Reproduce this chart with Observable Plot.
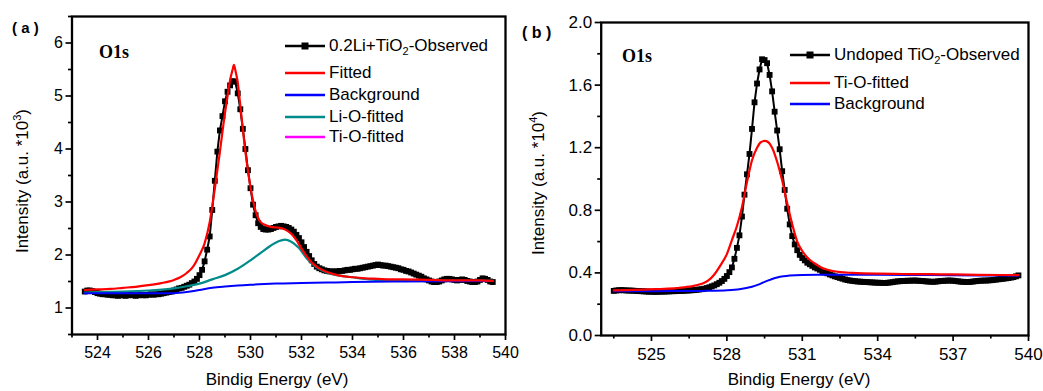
<!DOCTYPE html>
<html>
<head>
<meta charset="utf-8">
<script src="https://cdn.jsdelivr.net/npm/d3@7"></script>
<script src="https://cdn.jsdelivr.net/npm/@observablehq/plot@0.6"></script>
<style>
  body { margin: 0; background: #fff; }
  #wrap { position: relative; width: 1043px; height: 391px; overflow: hidden; background: #fff;
          font-family: "Liberation Sans", Arial, sans-serif; color: #000; }
  .svgbox { position: absolute; top: 0; }
  .t { position: absolute; white-space: nowrap; line-height: 20px; height: 20px; }
  .leg { position: absolute; display: flex; align-items: center; height: 20px; font-size: 17px; white-space: nowrap; }
  .leg svg { margin-right: 4px; flex: none; }
  sub { font-size: 11px; vertical-align: -4px; line-height: 0; }
  sup { font-size: 11px; vertical-align: 7px; line-height: 0; }
</style>
</head>
<body>
<div id="wrap"></div>
<script>
// ---------------- Panel (a): 0.2Li + TiO2, O1s ----------------
const obsAStart = 523.5, obsAStep = 0.1;
const obsA = [
  1.31,1.33,1.33,1.32,1.30,1.28,1.27,1.26,1.26,1.25,
  1.25,1.24,1.24,1.23,1.24,1.24,1.23,1.24,1.25,1.24,
  1.23,1.24,1.25,1.24,1.24,1.25,1.26,1.25,1.26,1.26,
  1.27,1.28,1.29,1.30,1.31,1.33,1.35,1.37,1.38,1.40,
  1.42,1.44,1.47,1.50,1.55,1.62,1.72,1.88,2.10,2.35,
  2.85,3.40,3.95,4.35,4.62,4.90,5.08,5.20,5.28,5.27,
  5.05,4.75,4.38,4.00,3.60,3.26,2.95,2.75,2.60,2.53,
  2.49,2.48,2.48,2.49,2.51,2.53,2.54,2.55,2.54,2.53,
  2.51,2.48,2.44,2.38,2.32,2.24,2.15,2.06,1.98,1.90,
  1.83,1.78,1.75,1.73,1.71,1.70,1.69,1.69,1.69,1.69,
  1.70,1.70,1.71,1.72,1.72,1.73,1.74,1.74,1.75,1.76,
  1.77,1.78,1.79,1.80,1.81,1.82,1.81,1.80,1.80,1.79,
  1.78,1.77,1.76,1.75,1.73,1.72,1.70,1.69,1.67,1.65,
  1.63,1.61,1.59,1.56,1.54,1.52,1.50,1.49,1.49,1.50,
  1.52,1.54,1.55,1.55,1.54,1.53,1.52,1.53,1.54,1.53,
  1.51,1.50,1.49,1.49,1.50,1.53,1.56,1.55,1.53,1.50,
  1.49
];
const fitA_E = [523.5,524,524.5,525,525.5,526,526.5,527,527.25,527.5,527.75,528,528.2,528.4,528.6,528.8,529,529.1,529.2,529.3,529.35,529.4,529.5,529.6,529.8,530,530.2,530.4,530.6,530.8,531,531.2,531.4,531.6,531.8,532,532.2,532.4,532.6,532.8,533,533.25,533.5,534,534.5,535,535.5,536,537,538,539,539.5];
const fitA   = [1.34,1.35,1.36,1.38,1.40,1.43,1.47,1.53,1.58,1.66,1.78,2.00,2.22,2.62,3.25,3.95,4.68,5.00,5.30,5.50,5.59,5.50,5.25,4.82,3.95,3.28,2.83,2.62,2.56,2.53,2.52,2.51,2.47,2.40,2.28,2.12,1.98,1.86,1.78,1.72,1.68,1.64,1.61,1.58,1.56,1.55,1.54,1.54,1.53,1.52,1.52,1.51];
const bgA_E  = [523.5,526,527,527.5,528,528.5,529,529.5,530,531,532,533,534,536,539.5];
const bgA    = [1.28,1.28,1.28,1.30,1.34,1.38,1.405,1.425,1.44,1.46,1.47,1.48,1.49,1.50,1.51];
const lioA_E = [523.5,524,525,526,527,527.5,528,528.5,529,529.5,530,530.4,530.8,531.1,531.35,531.6,531.9,532.2,532.5,532.8,533.1,533.5,534,534.5,535,536,537,538,539.5];
const lioA   = [1.29,1.30,1.31,1.33,1.37,1.41,1.46,1.54,1.62,1.74,1.90,2.04,2.18,2.26,2.29,2.25,2.13,1.94,1.80,1.71,1.65,1.61,1.58,1.55,1.53,1.52,1.52,1.51,1.51];
const xMajorA = [524,526,528,530,532,534,536,538,540];
const xMinorA = [523,525,527,529,531,533,535,537,539];
const yMajorA = [1,2,3,4,5,6];
const yMinorA = [0.5,1.5,2.5,3.5,4.5,5.5,6.5];

// ---------------- Panel (b): undoped TiO2, O1s ----------------
const obsBStart = 523.5, obsBStep = 0.1;
const obsB = [
  0.285,0.288,0.289,0.290,0.289,0.288,0.287,0.287,0.286,0.285,
  0.284,0.283,0.282,0.281,0.280,0.280,0.279,0.279,0.280,0.280,
  0.281,0.281,0.282,0.283,0.283,0.284,0.285,0.285,0.286,0.287,
  0.288,0.289,0.290,0.292,0.294,0.296,0.299,0.303,0.308,0.314,
  0.320,0.328,0.337,0.348,0.362,0.380,0.405,0.435,0.490,0.560,
  0.640,0.760,0.900,1.030,1.160,1.320,1.490,1.610,1.700,1.765,
  1.760,1.740,1.665,1.560,1.430,1.310,1.190,1.050,0.930,0.810,
  0.710,0.635,0.582,0.545,0.515,0.495,0.480,0.465,0.455,0.445,
  0.435,0.428,0.420,0.410,0.403,0.397,0.390,0.384,0.378,0.373,
  0.368,0.363,0.358,0.354,0.351,0.349,0.347,0.345,0.344,0.343,
  0.342,0.341,0.340,0.339,0.338,0.337,0.337,0.336,0.336,0.337,
  0.339,0.341,0.344,0.346,0.347,0.348,0.349,0.350,0.350,0.351,
  0.351,0.350,0.349,0.348,0.346,0.345,0.344,0.343,0.344,0.346,
  0.348,0.349,0.350,0.351,0.351,0.350,0.348,0.346,0.344,0.343,
  0.342,0.342,0.343,0.345,0.347,0.349,0.350,0.351,0.351,0.352,
  0.353,0.355,0.357,0.359,0.361,0.363,0.365,0.367,0.370,0.373,
  0.378,0.384
];
const fitB_E = [523.5,524,525,525.5,526,526.5,527,527.25,527.5,527.75,528,528.2,528.4,528.6,528.8,529,529.2,529.35,529.5,529.65,529.8,530,530.2,530.4,530.6,530.8,531,531.25,531.5,531.75,532,532.5,533,534,535,536,537,538,539.6];
const fitB   = [0.288,0.290,0.295,0.298,0.303,0.312,0.330,0.350,0.390,0.450,0.520,0.610,0.700,0.820,0.980,1.120,1.200,1.235,1.243,1.235,1.200,1.110,0.990,0.845,0.710,0.600,0.540,0.490,0.460,0.435,0.420,0.405,0.400,0.395,0.393,0.392,0.390,0.388,0.386];
const bgB_E  = [523.5,525,526,527,527.5,528,528.5,529,529.25,529.5,529.75,530,530.25,530.5,531,532,534,536,538,539.6];
const bgB    = [0.283,0.283,0.284,0.285,0.286,0.289,0.296,0.312,0.325,0.343,0.358,0.370,0.378,0.383,0.387,0.388,0.388,0.386,0.384,0.382];
const xMajorB = [525,528,531,534,537,540];
const xMinorB = [523.5,526.5,529.5,532.5,535.5,538.5];
const yMajorB = [0,0.4,0.8,1.2,1.6,2.0];
const yMinorB = [0.2,0.6,1.0,1.4,1.8];

// ---------------- helpers ----------------
const FONT = '"Liberation Sans", Arial, sans-serif';
const RED = "#ff0000", BLUE = "#0000ff", TEAL = "#008b8b", MAGENTA = "#ff00ff";
const rows = (E, V) => V.map((v, i) => ({e: E[i], v}));
const obsRows = (start, step, V) => V.map((v, i) => ({e: +(start + i * step).toFixed(2), v}));

function axes(xMajor, xMinor, yMajor, yMinor, yFmt, xPad) {
  return [
    Plot.axisX({ticks: xMajor, tickSize: 6, tickPadding: xPad, strokeWidth: 1.7, label: null, tickFormat: d => String(d)}),
    Plot.axisX({ticks: xMinor, tickSize: 3.5, strokeWidth: 1.7, label: null, tickFormat: () => ""}),
    Plot.axisY({ticks: yMajor, tickSize: 6, tickPadding: 3, strokeWidth: 1.7, label: null, tickFormat: yFmt}),
    Plot.axisY({ticks: yMinor, tickSize: 3.5, strokeWidth: 1.7, label: null, tickFormat: () => ""})
  ];
}

const dataObsA = obsRows(obsAStart, obsAStep, obsA);
const plotA = Plot.plot({
  width: 520, height: 391,
  marginLeft: 71.5, marginRight: 15, marginTop: 16, marginBottom: 57,
  x: {domain: [523, 540]},
  y: {domain: [0.5, 6.5]},
  style: {fontFamily: FONT, fontSize: "16px", color: "#000", background: "none"},
  marks: [
    ...axes(xMajorA, xMinorA, yMajorA, yMinorA, d => String(d), 6),
    Plot.line(dataObsA, {x: "e", y: "v", stroke: "#000", strokeWidth: 2}),
    Plot.dot(dataObsA, {x: "e", y: "v", symbol: "square", r: 3.3, fill: "#000", stroke: "none"}),
    Plot.line(rows(lioA_E, lioA), {x: "e", y: "v", stroke: TEAL, strokeWidth: 2.2, curve: "monotone-x"}),
    Plot.line(rows(bgA_E, bgA), {x: "e", y: "v", stroke: BLUE, strokeWidth: 2, curve: "monotone-x"}),
    Plot.line(rows(fitA_E, fitA), {x: "e", y: "v", stroke: RED, strokeWidth: 2.2, curve: "monotone-x"}),
    Plot.frame({stroke: "#000", strokeWidth: 2.3})
  ]
});

const dataObsB = obsRows(obsBStart, obsBStep, obsB);
const plotB = Plot.plot({
  width: 523, height: 391,
  marginLeft: 80.7, marginRight: 15, marginTop: 22, marginBottom: 56,
  x: {domain: [523, 540]},
  y: {domain: [0, 2]},
  style: {fontFamily: FONT, fontSize: "17px", color: "#000", background: "none"},
  marks: [
    ...axes(xMajorB, xMinorB, yMajorB, yMinorB, d => d.toFixed(1), 6),
    Plot.line(dataObsB, {x: "e", y: "v", stroke: "#000", strokeWidth: 2}),
    Plot.dot(dataObsB, {x: "e", y: "v", symbol: "square", r: 3.3, fill: "#000", stroke: "none"}),
    Plot.line(rows(bgB_E, bgB), {x: "e", y: "v", stroke: BLUE, strokeWidth: 2, curve: "monotone-x"}),
    Plot.line(rows(fitB_E, fitB), {x: "e", y: "v", stroke: RED, strokeWidth: 2.2, curve: "monotone-x"}),
    Plot.frame({stroke: "#000", strokeWidth: 2.3})
  ]
});

const wrap = document.getElementById("wrap");
function place(node, left) {
  const d = document.createElement("div");
  d.className = "svgbox";
  d.style.left = left + "px";
  d.appendChild(node);
  wrap.appendChild(d);
}
place(plotA, 0);
place(plotB, 520);

function text(html, left, cy, style) {
  const d = document.createElement("div");
  d.className = "t";
  d.innerHTML = html;
  d.style.left = left + "px";
  d.style.top = (cy - 10) + "px";
  Object.assign(d.style, style || {});
  wrap.appendChild(d);
  return d;
}
function centered(html, cx, cy, w, style) {
  return text(html, cx - w / 2, cy, Object.assign({width: w + "px", textAlign: "center"}, style || {}));
}
function vtitle(html, cx, cy, w, size) {
  centered(html, cx, cy, w, {transform: "rotate(-90deg)", fontSize: size + "px"});
}

// panel letters
text("( a )", 12, 28, {fontSize: "15px", fontWeight: "bold"});
text("( b )", 522, 33, {fontSize: "16px", fontWeight: "bold"});
// O1s labels
text("O1s", 99, 52, {fontSize: "18px", fontWeight: "bold", fontFamily: '"Liberation Serif", "Times New Roman", serif'});
text("O1s", 622, 56, {fontSize: "18px", fontWeight: "bold", fontFamily: '"Liberation Serif", "Times New Roman", serif'});
// axis titles
centered("Bindig Energy (eV)", 277, 380, 220, {fontSize: "17px"});
centered("Bindig Energy (eV)", 799, 380, 220, {fontSize: "17px"});
vtitle("Intensity (a.u. *10<sup>3</sup>)", 23, 181, 220, 17);
vtitle("Intensity (a.u. *10<sup>4</sup>)", 539, 183, 220, 17);

// legends
function swatch(color, marker) {
  let s = `<svg width="40" height="20"><line x1="0" y1="10" x2="40" y2="10" stroke="${color}" stroke-width="2.5"/>`;
  if (marker) s += `<rect x="16.5" y="6.5" width="7" height="7" fill="#000"/>`;
  return s + "</svg>";
}
function legendRow(left, cy, color, marker, label) {
  const d = document.createElement("div");
  d.className = "leg";
  d.style.left = left + "px";
  d.style.top = (cy - 10) + "px";
  d.innerHTML = swatch(color, marker) + `<span>${label}</span>`;
  wrap.appendChild(d);
}
const legA = [
  ["#000", true, "0.2Li+TiO<sub>2</sub>-Observed", 46],
  [RED, false, "Fitted", 73],
  [BLUE, false, "Background", 95],
  [TEAL, false, "Li-O-fitted", 116.5],
  [MAGENTA, false, "Ti-O-fitted", 137]
];
legA.forEach(([c, m, l, y]) => legendRow(285, y, c, m, l));
const legB = [
  ["#000", true, "Undoped TiO<sub>2</sub>-Observed", 55],
  [RED, false, "Ti-O-fitted", 82.5],
  [BLUE, false, "Background", 103.5]
];
legB.forEach(([c, m, l, y]) => legendRow(790, y, c, m, l));
</script>
</body>
</html>
